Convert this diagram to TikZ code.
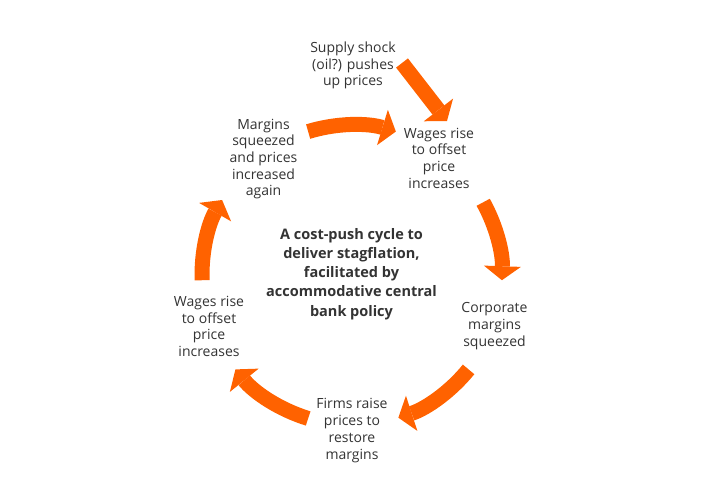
\documentclass[tikz,border=0pt]{standalone}
\usepackage{fontspec}
\setmainfont{Open Sans}
\usetikzlibrary{arrows.meta,calc}
\definecolor{ingorange}{HTML}{FF6200}
\definecolor{txtgray}{HTML}{333333}

\begin{document}
\begin{tikzpicture}[x=1pt, y=1pt,
  stage/.style={
    align=center, inner sep=0pt, text=txtgray,
    font=\fontsize{14}{16.7}\selectfont},
  core/.style={
    align=center, inner sep=0pt, text=txtgray,
    font=\fontsize{14.5}{19.2}\selectfont\bfseries},
  flow/.style={
    draw=ingorange, line width=15pt,
    -{Triangle[width=37pt, length=14pt, line width=0pt]}},
]
\useasboundingbox (0,0) rectangle (701,-498);

%% ---- Nodes ----
\node[stage] (shock)   at (353,-65.5) {Supply shock\\(oil?) pushes\\up prices};
\node[stage] (wagesA)  at (439,-158)  {Wages rise\\to offset\\price\\increases};
\node[stage] (corp)    at (494.5,-326){Corporate\\margins\\squeezed};
\node[stage] (firms)   at (352,-430.5){Firms raise\\prices to\\restore\\margins};
\node[stage] (wagesB)  at (209,-326.5){Wages rise\\to offset\\price\\increases};
\node[stage] (again)   at (263.5,-159){Margins\\squeezed\\and prices\\increased\\again};

\node[core]  (title)   at (351.5,-274){A cost-push cycle to\\deliver stagflation,\\facilitated by\\accommodative central\\bank policy};

%% ---- Shock arrow ----
\coordinate (shockout) at (402,-63);
\coordinate (wagesin)  at (447,-121);
\draw[flow] (shockout) -- (wagesin);

%% ---- Arcs around the cycle ----
\coordinate (hub) at (352,-275);
\def\rad{150}
\draw[flow] ($(hub)+(107:\rad)$) arc[start angle=107, end angle=73,   radius=\rad];
\draw[flow] ($(hub)+(29:\rad)$)  arc[start angle=29,  end angle=-2,   radius=\rad];
\draw[flow] ($(hub)+(-39:\rad)$) arc[start angle=-39, end angle=-72,  radius=\rad];
\draw[flow] ($(hub)+(-107:\rad)$)arc[start angle=-107,end angle=-141, radius=\rad];
\draw[flow] ($(hub)+(182:\rad)$) arc[start angle=182, end angle=150,  radius=\rad];

\end{tikzpicture}
\end{document}
